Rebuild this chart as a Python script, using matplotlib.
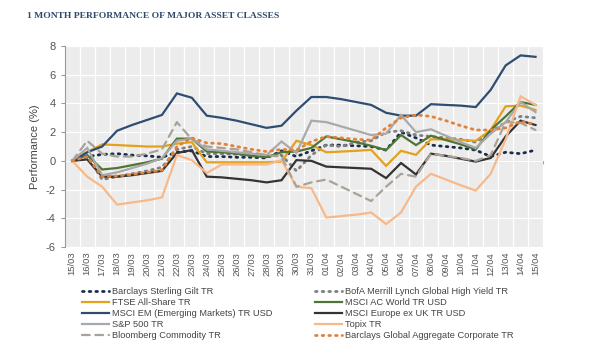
import numpy as np
import matplotlib
matplotlib.use("Agg")
import matplotlib.pyplot as plt

plt.rcParams["font.family"] = ["Liberation Sans", "DejaVu Sans"]
plt.rcParams["axes.unicode_minus"] = False

DATES = ["15/03", "16/03", "17/03", "18/03", "19/03", "20/03", "21/03", "22/03",
         "23/03", "24/03", "25/03", "26/03", "27/03", "28/03", "29/03", "30/03",
         "31/03", "01/04", "02/04", "03/04", "04/04", "05/04", "06/04", "07/04",
         "08/04", "09/04", "10/04", "11/04", "12/04", "13/04", "14/04", "15/04"]

gilt = [0, 0.3, 0.45, 0.5, 0.4, 0.35, 0.25, 0.6, 0.7, 0.3, 0.3, 0.25, 0.25, 0.2, 0.7, 0.3,
        0.7, 1.1, 1.1, 1.05, 1.0, 0.75, 2.0, 1.6, 1.1, 1.0, 0.9, 0.75, 0.3, 0.6, 0.5, 0.75]
bofa = [0, 0.3, -1.3, -1.1, -0.9, -0.7, -0.45, 0.8, 1.0, 0.5, 0.5, 0.45, 0.4, 0.3, 0.4, -0.7,
        0.4, 1.1, 1.0, 1.3, 1.4, 2.0, 2.1, 1.8, 1.7, 1.6, 1.5, 1.3, 2.0, 2.7, 3.1, 3.0]
ftse = [0, 0.6, 1.15, 1.1, 1.05, 1.0, 1.0, 1.2, 1.3, -0.1, -0.1, -0.1, -0.1, -0.1, -0.05, 1.4,
        1.1, 0.6, 0.65, 0.7, 0.77, -0.35, 0.7, 0.42, 1.5, 1.5, 1.45, 1.4, 2.15, 3.8, 3.85, 3.55]
acwi = [0, 0.4, -0.6, -0.5, -0.3, -0.1, 0.15, 1.55, 1.55, 0.65, 0.6, 0.5, 0.35, 0.26, 0.6, 0.65,
        0.9, 1.7, 1.5, 1.3, 1.05, 0.75, 1.8, 1.1, 1.75, 1.45, 1.15, 0.8, 2.15, 3.1, 4.1, 3.9]
em = [0, 0.6, 1.0, 2.1, 2.5, 2.85, 3.2, 4.7, 4.4, 3.15, 3.0, 2.8, 2.55, 2.3, 2.45, 3.5,
      4.45, 4.45, 4.3, 4.1, 3.9, 3.35, 3.15, 3.15, 3.95, 3.9, 3.85, 3.75, 4.95, 6.65, 7.35, 7.25]
eur = [0, 0.1, -1.1, -1.1, -1.0, -0.85, -0.7, 0.55, 0.75, -1.1, -1.15, -1.25, -1.35, -1.5, -1.35, 0.05,
       0.0, -0.4, -0.45, -0.5, -0.55, -1.2, -0.15, -0.95, 0.5, 0.35, 0.15, -0.05, 0.2, 1.7, 2.8, 2.5]
spx = [0, 0.9, -1.0, -0.8, -0.5, -0.2, 0.2, 1.4, 1.55, 0.8, 0.7, 0.6, 0.5, 0.4, 1.35, 0.55,
       2.8, 2.7, 2.4, 2.1, 1.8, 1.9, 3.2, 2.0, 2.2, 1.75, 1.3, 0.9, 1.9, 2.7, 4.1, 3.4]
topix = [0, -1.1, -1.8, -3.05, -2.9, -2.75, -2.55, 0.4, 0.05, -0.85, -0.25, -0.25, -0.25, -0.25, 0.05, -1.8,
         -1.9, -3.95, -3.85, -3.75, -3.6, -4.4, -3.6, -1.8, -0.9, -1.3, -1.7, -2.07, -0.9, 1.5, 4.5, 3.9]
bcom = [0, 1.4, 0.5, 0.3, 0.3, 0.5, 0.8, 2.7, 1.5, 1.0, 0.9, 0.8, 0.6, 0.4, 0.3, -1.8,
        -1.5, -1.3, -1.8, -2.3, -2.8, -1.8, -0.9, -1.1, 0.5, 0.35, 0.2, 0.0, 0.4, 2.7, 2.65, 2.15]
aggcorp = [0, 0.3, -1.1, -1.05, -0.95, -0.8, -0.65, 1.0, 1.6, 1.25, 1.2, 1.0, 0.8, 0.65, 0.8, 0.75,
           1.35, 1.7, 1.6, 1.5, 1.45, 2.3, 3.0, 3.2, 3.1, 2.8, 2.45, 2.15, 2.15, 2.3, 2.75, 2.55]

DOT = (0, (0.6, 1.8))
SERIES = [
    # label, values, color, linestyle, width
    ("Barclays Sterling Gilt TR", gilt, "#1c2c4c", DOT, 2.0),
    ("BofA Merrill Lynch Global High Yield TR", bofa, "#808080", DOT, 2.0),
    ("FTSE All-Share TR", ftse, "#e3a11c", "-", 1.6),
    ("MSCI AC World TR USD", acwi, "#4e7536", "-", 1.6),
    ("MSCI EM (Emerging Markets) TR USD", em, "#2f4d70", "-", 1.6),
    ("MSCI Europe ex UK TR USD", eur, "#333333", "-", 1.6),
    ("S&P 500 TR", spx, "#a9a9a9", "-", 1.6),
    ("Topix TR", topix, "#f7b98a", "-", 1.6),
    ("Bloomberg Commodity TR", bcom, "#aaa298", (0, (3.5, 2.5)), 1.6),
    ("Barclays Global Aggregate Corporate TR", aggcorp, "#e2823a", DOT, 2.0),
]

fig = plt.figure(figsize=(6, 3.6), dpi=100)
ax = fig.add_axes([0.108, 0.314, 0.797, 0.558])
ax.set_facecolor("#ececec")

x = np.arange(len(DATES))
handles = {}
for label, vals, color, ls, lw in SERIES:
    line, = ax.plot(x, vals, color=color, linestyle=ls, linewidth=lw,
                    dash_capstyle="round", solid_joinstyle="miter", label=label)
    handles[label] = line

ax.set_xlim(-0.5, len(DATES) - 0.5)
ax.set_ylim(-6, 8)
ax.set_yticks(range(-6, 9, 2))
ax.set_xticks(x)
ax.set_xticklabels(DATES, rotation=90, fontsize=6.8, color="#555555")
ax.set_xticks(x + 0.5, minor=True)
ax.tick_params(axis="x", which="both", length=0)
ax.tick_params(axis="y", labelsize=8, colors="#555555", length=3, color="#999999")
ax.grid(True, which="minor", axis="x", color="white", linewidth=0.9)
ax.grid(True, which="major", axis="y", color="white", linewidth=0.9)
ax.set_axisbelow(True)
for side in ["top", "right", "bottom"]:
    ax.spines[side].set_visible(False)
ax.spines["left"].set_color("#999999")
ax.set_ylabel("Performance (%)", fontsize=8, color="#444444", labelpad=4)

# zero axis with small ticks
zero = ax.secondary_xaxis(6 / 14)
zero.set_xticks(x + 0.5)
zero.set_xticklabels([])
zero.tick_params(length=2, color="#aaaaaa", direction="out")
zero.spines["bottom"].set_color("#aaaaaa")

fig.text(0.045, 0.955, "1 MONTH PERFORMANCE OF MAJOR ASSET CLASSES", fontsize=6.8,
         family="Liberation Serif", color="#2d4a6b", fontweight="bold", va="center")

left = [SERIES[i][0] for i in (0, 2, 4, 6, 8)]
right = [SERIES[i][0] for i in (1, 3, 5, 7, 9)]
for names, xpos in [(left, 82), (right, 315)]:
    fig.legend([handles[n] for n in names], names, loc="upper left",
               bbox_to_anchor=(xpos / 600, 1 - 287 / 360), frameon=False,
               fontsize=6.7, handlelength=2.9, handletextpad=0.35, labelspacing=0.22,
               borderpad=0, borderaxespad=0, labelcolor="#444444")

fig.savefig("out.png", dpi=100)
